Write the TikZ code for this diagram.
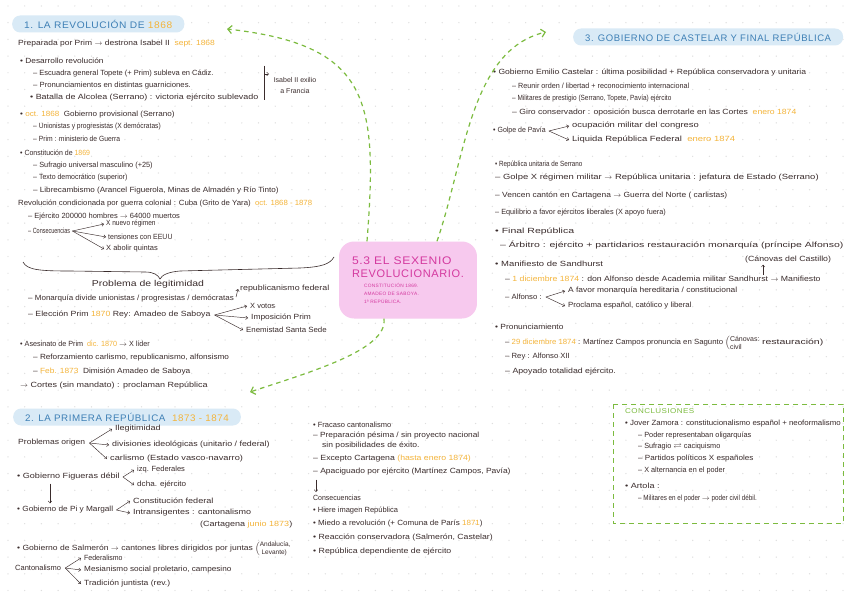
\documentclass[tikz,border=0pt]{standalone}
\usepackage{amssymb}
\usepackage{fontspec}
\setmainfont{Liberation Sans}
\newfontfamily\headfont[LetterSpace=6]{Liberation Sans}
\usetikzlibrary{arrows.meta}

\definecolor{tinta}{HTML}{3A2C2C}
\definecolor{fechacol}{HTML}{F4B43A}
\definecolor{azul}{HTML}{3D7FB5}
\definecolor{banda}{HTML}{D9EAF6}
\definecolor{rosa}{HTML}{F7C9EE}
\definecolor{titcol}{HTML}{D4399F}
\definecolor{verde}{HTML}{7CBB3F}
\definecolor{punto}{HTML}{DEDEDE}

\newcommand{\fecha}[1]{\textcolor{fechacol}{#1}}
\newcommand{\ancho}[2]{{\addfontfeatures{FakeStretch=#1}#2}}
\newcommand{\titulo}{\headfont\fontsize{11}{16}\selectfont}
\newcommand{\subt}{\headfont\fontsize{4.8}{6}\selectfont}
\newcommand{\pila}[2]{$\left(\vcenter{\hbox{\fontsize{#1}{#1}\selectfont\shortstack[l]{#2}}}\right.$}

\begin{document}
\begin{tikzpicture}[x=1pt,y=-1pt,
    txt/.style={anchor=west, inner sep=0pt, text=tinta, font=\fontsize{7.5}{9}\selectfont},
    band/.style={anchor=west, fill=banda, rounded corners=8pt, minimum height=17pt,
      inner xsep=12pt, inner ysep=0pt, text=azul, font=\headfont\fontsize{9.5}{11}\selectfont},
    blob/.style={fill=rosa, rounded corners=15pt, minimum width=137pt, minimum height=77pt,
      inner xsep=13pt, align=left, text=titcol},
    br/.style={draw=tinta, line width=0.45pt, -{Straight Barb[length=2pt,width=3.5pt]}},
    link/.style={draw=verde, line width=1.2pt, dash pattern=on 4.5pt off 4pt,
      -{Straight Barb[length=4pt,width=8pt]}},
    conc/.style={draw=verde, line width=0.9pt, dash pattern=on 5pt off 4pt},
    llave/.style={draw=tinta, line width=0.6pt}]

    % Background and dots
    \fill[white] (0,0) rectangle (848,599);
    \useasboundingbox (0,0) rectangle (848,599);
    \foreach \i in {0,...,50}
      \foreach \j in {0,...,35}
        \fill[punto] ({8+16.7*\i},{6+16.7*\j}) circle (0.7pt);

    % Centre
    \node[blob] (cen) at (408,280) {\titulo \ancho{1.1}{5.3 EL SEXENIO}\\[1pt] \titulo REVOLUCIONARIO.\\[-2pt]
      \subt\hspace*{12pt}CONSTITUCIÓN 1869.\\[-4pt] \subt\hspace*{12pt}AMADEO DE SABOYA.\\[-4pt]
      \subt\hspace*{12pt}1ª REPÚBLICA.};

    % 1. La revolucion de 1868
    \node[band] (h1) at (12,24) {\ancho{1.07}{1. LA REVOLUCIÓN DE \fecha{1868}}};
    \node[txt] (prep) at (18,44) {\ancho{1.13}{Preparada por Prim $\rightarrow$ destrona Isabel II \ \fecha{sept. 1868}}};
    \node[txt] (desa) at (20,61) {\ancho{1.11}{• Desarrollo revolución}};
    \node[txt] (escu) at (33,74) {– Escuadra general Topete (+ Prim) subleva en Cádiz.};
    \node[txt] (pron) at (33,86) {\ancho{1.03}{– Pronunciamientos en distintas guarniciones.}};
    \node[txt] (bata) at (30,98) {\ancho{1.19}{• Batalla de Alcolea (Serrano) : victoria ejército sublevado}};
    \node[txt, anchor=center, align=center, font=\fontsize{7}{11}\selectfont] (isa) at (295,85) {Isabel II exilio\\a Francia};
    \node[txt] (gobp) at (20,115) {\ancho{1.08}{• \fecha{oct. 1868} \ Gobierno provisional (Serrano)}};
    \node[txt] (unio) at (33,127) {\ancho{0.89}{– Unionistas y progresistas (X demócratas)}};
    \node[txt] (prim) at (33,139) {\ancho{0.9}{– Prim : ministerio de Guerra}};
    \node[txt] (c69) at (20,153) {\ancho{0.93}{• Constitución de \fecha{1869}}};
    \node[txt] (sufr) at (33,166) {\ancho{0.98}{– Sufragio universal masculino (+25)}};
    \node[txt] (demo) at (33,178) {\ancho{0.93}{– Texto democrático (superior)}};
    \node[txt] (libr) at (33,191) {\ancho{1.08}{– Librecambismo (Arancel Figuerola, Minas de Almadén y Río Tinto)}};
    \node[txt] (revc) at (18,204) {\ancho{1.04}{Revolución condicionada por guerra colonial : Cuba (Grito de Yara) \ \fecha{oct. 1868 - 1878}}};
    \node[txt] (ejer) at (28,217) {– Ejército 200000 hombres $\rightarrow$ 64000 muertos};
    \node[txt] (cons) at (28,231) {\ancho{0.73}{– Consecuencias}};
    \node[txt] (nue) at (106,224) {\ancho{0.87}{X nuevo régimen}};
    \node[txt] (ten) at (108,237) {\ancho{0.93}{tensiones con EEUU}};
    \node[txt] (abo) at (106,249) {X abolir quintas};
    \node[txt, anchor=center, font=\fontsize{8.5}{10}\selectfont] (legi) at (148,284) {\ancho{1.23}{Problema de legitimidad}};
    \node[txt] (mon) at (28,299) {\ancho{1.07}{– Monarquía divide unionistas / progresistas / demócratas}};
    \node[txt] (rep) at (240,289) {\ancho{1.18}{republicanismo federal}};
    \node[txt] (elec) at (28,315) {\ancho{1.16}{– Elección Prim \fecha{1870} Rey: Amadeo de Saboya}};
    \node[txt] (vot) at (250,306) {X votos};
    \node[txt] (imp) at (251,318) {\ancho{1.12}{Imposición Prim}};
    \node[txt] (ene) at (246,330) {\ancho{1.05}{Enemistad Santa Sede}};
    \node[txt] (ases) at (20,344) {\ancho{0.96}{• Asesinato de Prim \ \fecha{dic. 1870} $\rightarrow$ X líder}};
    \node[txt] (refo) at (33,358) {\ancho{1.09}{– Reforzamiento carlismo, republicanismo, alfonsismo}};
    \node[txt] (feb) at (33,372) {\ancho{1.11}{– \fecha{Feb. 1873} \ Dimisión Amadeo de Saboya}};
    \node[txt] (cort) at (20,386) {\ancho{1.2}{$\rightarrow$ Cortes (sin mandato) : proclaman República}};

    \coordinate (ib1) at (264,66);
    \coordinate (ib2) at (264,100);
    \coordinate (ib3) at (269,74);
    \draw[llave] (ib1) -- (ib2);
    \draw[br] (ib1) |- (ib3);
    \draw[llave] (23,262) .. controls (27,270) and (40,271) .. (70,271) -- (145,272)
      .. controls (154,272) and (158,275) .. (160,279) .. controls (162,275) and (168,272) .. (180,271)
      -- (300,268) .. controls (322,267) and (330,264) .. (334,257);

    % 2. La primera republica
    \node[band] (h2) at (13,417) {\ancho{1.03}{2. LA PRIMERA REPÚBLICA \ \fecha{1873 - 1874}}};
    \node[txt] (ile) at (115,429) {\ancho{1.2}{Ilegitimidad}};
    \node[txt] (prob) at (18,443) {\ancho{1.14}{Problemas origen}};
    \node[txt] (div) at (112,445) {\ancho{1.18}{divisiones ideológicas (unitario / federal)}};
    \node[txt] (carl) at (110,459) {\ancho{1.23}{carlismo (Estado vasco-navarro)}};
    \node[txt] (fig) at (17,477) {\ancho{1.21}{• Gobierno Figueras débil}};
    \node[txt] (izq) at (137,470) {izq. Federales};
    \node[txt] (dch) at (137,485) {\ancho{1.08}{dcha. ejército}};
    \node[txt] (pi) at (17,510) {\ancho{1.1}{• Gobierno de Pi y Margall}};
    \node[txt] (cfe) at (133,501) {\ancho{1.21}{Constitución federal}};
    \node[txt] (intr) at (133,513) {\ancho{1.2}{Intransigentes : cantonalismo}};
    \node[txt] (carta) at (200,525) {\ancho{1.2}{(Cartagena \fecha{junio 1873})}};
    \node[txt] (salm) at (17,549) {\ancho{1.14}{• Gobierno de Salmerón $\rightarrow$ cantones libres dirigidos por juntas} \pila{6.5}{Andalucía,\\ \ Levante)}};
    \node[txt] (cant) at (15,568) {Cantonalismo};
    \node[txt] (fed) at (84,558) {\ancho{0.93}{Federalismo}};
    \node[txt] (mes) at (84,570) {\ancho{1.09}{Mesianismo social proletario, campesino}};
    \node[txt] (tra) at (84,584) {\ancho{1.14}{Tradición juntista (rev.)}};

    % Fracaso cantonalismo
    \node[txt] (fra) at (313,425) {• Fracaso cantonalismo};
    \node[txt] (pes) at (313,436) {\ancho{1.11}{– Preparación pésima / sin proyecto nacional}};
    \node[txt] (sinp) at (322,446) {\ancho{1.14}{sin posibilidades de éxito.}};
    \node[txt] (exc) at (313,459) {\ancho{1.16}{– Excepto Cartagena \fecha{(hasta enero 1874)}}};
    \node[txt] (apa) at (313,472) {\ancho{1.13}{– Apaciguado por ejército (Martínez Campos, Pavía)}};
    \node[txt] (csq) at (313,498) {\ancho{0.93}{Consecuencias}};
    \node[txt] (hie) at (313,511) {• Hiere imagen República};
    \node[txt] (mie) at (313,524) {\ancho{1.07}{• Miedo a revolución (+ Comuna de París \fecha{1871})}};
    \node[txt] (rea) at (313,538) {\ancho{1.16}{• Reacción conservadora (Salmerón, Castelar)}};
    \node[txt] (rdep) at (313,552) {\ancho{1.17}{• República dependiente de ejército}};

    % 3. Gobierno de Castelar y final republica
    \node[band] (h3) at (573,37) {3. GOBIERNO DE CASTELAR Y FINAL REPÚBLICA};
    \node[txt] (gec) at (493,73) {\ancho{1.14}{• Gobierno Emilio Castelar : última posibilidad + República conservadora y unitaria}};
    \node[txt] (reu) at (512,86) {\ancho{0.96}{– Reunir orden / libertad + reconocimiento internacional}};
    \node[txt] (mil) at (512,99) {\ancho{0.86}{– Militares de prestigio (Serrano, Topete, Pavía) ejército}};
    \node[txt] (giro) at (512,113) {\ancho{1.15}{– Giro conservador : oposición busca derrotarle en las Cortes \ \fecha{enero 1874}}};
    \node[txt] (pav) at (493,131) {\ancho{0.93}{• Golpe de Pavía}};
    \node[txt] (ocu) at (572,126) {\ancho{1.25}{ocupación militar del congreso}};
    \node[txt] (liq) at (572,140) {\ancho{1.26}{Liquida República Federal \ \fecha{enero 1874}}};
    \node[txt] (run) at (495,165) {\ancho{0.84}{• República unitaria de Serrano}};
    \node[txt] (gol) at (495,178) {\ancho{1.26}{– Golpe X régimen militar $\rightarrow$ República unitaria : jefatura de Estado (Serrano)}};
    \node[txt] (ven) at (495,196) {\ancho{1.12}{– Vencen cantón en Cartagena $\rightarrow$ Guerra del Norte ( carlistas)}};
    \node[txt] (equ) at (495,213) {\ancho{0.97}{– Equilibrio a favor ejércitos liberales (X apoyo fuera)}};
    \node[txt] (fin) at (495,232) {\ancho{1.4}{• Final República}};
    \node[txt] (arb) at (500,245) {\ancho{1.4}{– Árbitro : ejército + partidarios restauración monarquía (príncipe Alfonso)}};
    \node[txt] (man) at (495,264) {\ancho{1.26}{• Manifiesto de Sandhurst}};
    \node[txt] (cdc) at (745,260) {\ancho{1.17}{(Cánovas del Castillo)}};
    \node[txt] (dic1) at (505,279) {\ancho{1.16}{– \fecha{1 diciembre 1874} : don Alfonso desde Academia militar Sandhurst $\rightarrow$ Manifiesto}};
    \node[txt] (alf) at (505,297) {\ancho{1.03}{– Alfonso :}};
    \node[txt] (afa) at (568,291) {\ancho{1.12}{A favor monarquía hereditaria / constitucional}};
    \node[txt] (pcl) at (568,306) {\ancho{1.05}{Proclama español, católico y liberal}};
    \node[txt] (pronu) at (495,327) {\ancho{1.12}{• Pronunciamiento}};
    \node[txt] (dic29) at (505,343) {\ancho{1.04}{– \fecha{29 diciembre 1874} : Martínez Campos pronuncia en Sagunto} \pila{7}{Cánovas:\\civil}\,\ancho{1.4}{restauración)}};
    \node[txt] (rey) at (505,357) {\ancho{1.03}{– Rey : Alfonso XII}};
    \node[txt] (apo) at (505,372) {\ancho{1.17}{– Apoyado totalidad ejército.}};

    % Conclusiones
    \draw[conc] (613,404) rectangle (843,523);
    \node[txt, text=verde, font=\headfont\fontsize{7}{9}\selectfont] (ctit) at (625,411) {\ancho{1.15}{CONCLUSIONES}};
    \node[txt] (jov) at (625,424) {\ancho{1.05}{• Jover Zamora : constitucionalismo español + neoformalismo}};
    \node[txt] (pod) at (638,436) {\ancho{0.98}{– Poder representaban oligarquías}};
    \node[txt] (suf) at (638,447) {\ancho{0.97}{– Sufragio $\rightleftarrows$ caciquismo}};
    \node[txt] (par) at (638,459) {\ancho{1.08}{– Partidos políticos X españoles}};
    \node[txt] (alt) at (638,471) {\ancho{0.97}{– X alternancia en el poder}};
    \node[txt] (art) at (625,486) {\ancho{1.21}{• Artola :}};
    \node[txt] (mili) at (638,499) {\ancho{0.84}{– Militares en el poder $\rightarrow$ poder civil débil.}};

    % Edges
    \draw[br] ([xshift=2pt]cons.east) -- ([xshift=-2pt]nue.west);
    \draw[br] ([xshift=2pt]cons.east) -- ([xshift=-2pt]ten.west);
    \draw[br] ([xshift=2pt]cons.east) -- ([xshift=-2pt]abo.west);
    \draw[br] ([xshift=2pt,yshift=2pt]mon.east) -- ([xshift=-2pt]rep.west);
    \draw[br] ([xshift=4pt]elec.east) -- ([xshift=-3pt]vot.west);
    \draw[br] ([xshift=4pt]elec.east) -- ([xshift=-3pt]imp.west);
    \draw[br] ([xshift=4pt]elec.east) -- ([xshift=-3pt]ene.west);

    \draw[br] ([xshift=4pt]prob.east) -- ([xshift=-3pt]ile.west);
    \draw[br] ([xshift=4pt]prob.east) -- ([xshift=-3pt]div.west);
    \draw[br] ([xshift=4pt]prob.east) -- ([xshift=-3pt]carl.west);
    \draw[br] ([xshift=3pt]fig.east) -- ([xshift=-3pt]izq.west);
    \draw[br] ([xshift=3pt]fig.east) -- ([xshift=-3pt]dch.west);
    \draw[br] ([xshift=33pt,yshift=-3pt]fig.south west) -- ([xshift=33pt,yshift=3pt]pi.north west);
    \draw[br] ([xshift=3pt]pi.east) -- ([xshift=-3pt]cfe.west);
    \draw[br] ([xshift=3pt]pi.east) -- ([xshift=-3pt]intr.west);
    \draw[br] ([xshift=4pt]cant.east) -- ([xshift=-3pt]fed.west);
    \draw[br] ([xshift=4pt]cant.east) -- ([xshift=-3pt]mes.west);
    \draw[br] ([xshift=4pt]cant.east) -- ([xshift=-3pt]tra.west);
    \draw[br] ([xshift=3pt,yshift=-4pt]apa.south west) -- ([xshift=3pt,yshift=3pt]csq.north west);

    \draw[br] ([xshift=3pt]pav.east) -- ([xshift=-3pt]ocu.west);
    \draw[br] ([xshift=3pt]pav.east) -- ([xshift=-3pt]liq.west);
    \draw[br] ([xshift=4pt]alf.east) -- ([xshift=-3pt]afa.west);
    \draw[br] ([xshift=4pt]alf.east) -- ([xshift=-3pt]pcl.west);
    \draw[br] ([xshift=-25pt,yshift=1pt]cdc.south |- dic1.north) -- ([xshift=-25pt,yshift=-1pt]cdc.south);

    % Links from the centre
    \coordinate (a1) at (227,29);
    \coordinate (a3) at (546,32);
    \coordinate (a2) at (250,392);
    \draw[link] ([xshift=-41pt]cen.north) .. controls (378,100) and (370,45) .. (a1);
    \draw[link] ([xshift=29pt]cen.north) .. controls (465,160) and (470,50) .. (a3);
    \draw[link] ([xshift=-24pt]cen.south) .. controls (388,350) and (310,372) .. (a2);
\end{tikzpicture}
\end{document}
